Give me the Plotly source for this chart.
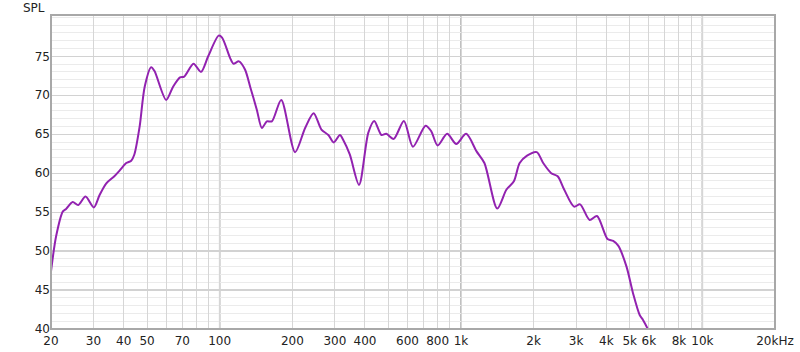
import plotly.graph_objects as go

freq_hz = [20, 21.0, 22.4, 23.1, 24.6, 25.9, 27.8, 30.1, 31.8, 33.9, 36.6, 38.4,
           41.0, 43.0, 44.3, 46.6, 48.9, 52.0, 53.7, 60.0, 64.1, 68.5, 71.3, 77.9,
           83.7, 89.6, 99.0, 102.3, 110.4, 114, 120.2, 127.3, 134, 142.5, 149.6,
           156.8, 164.5, 179.9, 205.3, 226, 245, 264, 282, 296.7, 315, 324.7, 346,
           378, 413, 437, 468, 490, 526, 580, 632, 713, 752, 800, 876, 956, 1050,
           1160, 1250, 1413, 1543, 1656, 1750, 1878, 2060, 2190, 2365, 2515, 2675,
           2940, 3115, 3410, 3660, 4045, 4270, 4480, 4850, 5160, 5500, 5670, 5940, 6200]
spl_db = [47.4, 51.9, 55.1, 55.4, 56.3, 55.9, 57.0, 55.6, 57.2, 58.7, 59.6, 60.3,
          61.3, 61.6, 62.4, 66.0, 71.1, 73.6, 73.1, 69.4, 71.1, 72.3, 72.4, 74.05,
          73.0, 75.0, 77.65, 77.4, 74.8, 74.05, 74.35, 73.3, 71.0, 68.15, 65.8,
          66.65, 66.65, 69.4, 62.7, 65.8, 67.7, 65.6, 64.9, 63.95, 64.9, 64.3, 62.4,
          58.5, 65.2, 66.7, 64.9, 65.05, 64.4, 66.7, 63.4, 66.1, 65.4, 63.55, 65.05, 63.75, 65.05,
          62.8, 61.3, 55.45, 57.9, 58.95, 61.3, 62.25, 62.7, 61.3, 60.0, 59.6, 57.9,
          55.7, 56.0, 54.0, 54.5, 51.55, 51.3, 50.7, 48.0, 44.6, 41.8, 41.2, 40.0, 38.6]

x_tick_vals = [20, 30, 40, 50, 60, 70, 80, 90, 100, 200, 300, 400, 500, 600, 700, 800, 900,
               1000, 2000, 3000, 4000, 5000, 6000, 7000, 8000, 9000, 10000, 20000]
x_tick_text = ["20", "30", "40", "50", "", "70", "", "", "100", "200", "300", "400", "", "600", "", "800", "",
               "1k", "2k", "3k", "4k", "5k", "6k", "", "8k", "", "10k", "20kHz"]
decades = [100, 1000, 10000]
y_tick_vals = [40, 45, 50, 55, 60, 65, 70, 75]

font = dict(family="DejaVu Sans", size=12, color="#222222")

fig = go.Figure()
fig.add_trace(go.Scatter(x=freq_hz, y=spl_db, mode="lines",
                         line=dict(color="#9222B0", width=2, shape="spline", smoothing=0.8),
                         hoverinfo="skip", showlegend=False, cliponaxis=True))

shapes = []
for d in decades:
    shapes.append(dict(type="line", xref="x", yref="paper", x0=d, x1=d, y0=0, y1=1,
                       line=dict(color="#a9a9a9", width=1.5), layer="below"))
shapes.append(dict(type="rect", xref="paper", yref="paper", x0=0, x1=1, y0=0, y1=1,
                   line=dict(color="#a8a8a8", width=2), layer="above"))

fig.update_layout(
    width=800, height=352,
    margin=dict(l=51, r=25, t=15, b=23, autoexpand=False),
    paper_bgcolor="white", plot_bgcolor="white",
    font=font,
    shapes=shapes,
    annotations=[dict(text="SPL", xref="paper", yref="paper", x=-0.005, y=1.0,
                      xanchor="right", yanchor="bottom", yshift=-2, showarrow=False,
                      font=font)],
    xaxis=dict(type="log", range=[1.30103, 4.30103], tickmode="array",
               tickvals=x_tick_vals, ticktext=x_tick_text, showgrid=True,
               gridcolor="#d6d6d6", gridwidth=1, zeroline=False, showline=False,
               ticks="", tickfont=font, automargin=False, ticklabelstandoff=3),
    yaxis=dict(range=[40, 80.3], tickmode="array", tickvals=y_tick_vals,
               showgrid=True, gridcolor="#d2d2d2", gridwidth=1.2, zeroline=False,
               showline=False, ticks="", tickfont=font, automargin=False,
               minor=dict(dtick=1, tick0=40, showgrid=True, gridcolor="#ebebeb", gridwidth=1)),
)

fig.write_html("out.html", config={"displayModeBar": False, "staticPlot": True},
               post_script="document.body.style.margin='0';document.body.style.padding='0';")
